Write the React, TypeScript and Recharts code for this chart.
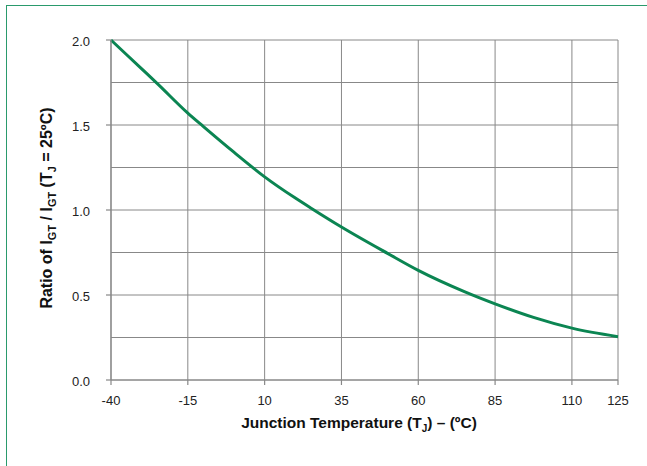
import React from 'react';
import { LineChart, Line, XAxis, YAxis, CartesianGrid } from 'recharts';

// junction temperature (ºC) and the I_GT ratio
const temps = [-40, -30, -25, -15, -10, 0, 10, 20, 25, 35, 50, 60, 75, 85, 97.5, 110, 125];
const ratios = [2.0, 1.83, 1.745, 1.57, 1.492, 1.34, 1.195, 1.07, 1.012, 0.9, 0.745, 0.645, 0.52, 0.448, 0.368, 0.305, 0.255];

const xTicks = [-40, -15, 10, 35, 60, 85, 110, 125];
const yTicks = [0, 0.25, 0.5, 0.75, 1.0, 1.25, 1.5, 1.75, 2.0];
const yLabelled = [0, 0.5, 1.0, 1.5, 2.0];

const data = temps.map((t, i) => ({ t, ratio: ratios[i] }));

const FONT = '"Liberation Sans", Arial, Helvetica, sans-serif';
const GRID = '#888888';
const GREEN = '#0b8552';

const YTick: React.FC<any> = ({ x, y, payload }) => {
  if (!yLabelled.includes(payload.value)) return null;
  return (
    <g>
      <line x1={x + 16} x2={x + 21} y1={y} y2={y} stroke={GRID} strokeWidth={1.2} />
      <text x={x} y={y + 1} dy="0.36em" textAnchor="end" fontSize={13} fill="#222" fontFamily={FONT}>
        {payload.value.toFixed(1)}
      </text>
    </g>
  );
};

const YTitle: React.FC<any> = () => (
  <text
    transform="translate(52,208) rotate(-90)"
    textAnchor="middle"
    fontSize={16}
    fontWeight="bold"
    fill="#111"
    fontFamily={FONT}
  >
    Ratio of I<tspan dy={4} fontSize={11}>GT</tspan>
    <tspan dy={-4}> / I</tspan><tspan dy={4} fontSize={11}>GT</tspan>
    <tspan dy={-4}> (T</tspan><tspan dy={4} fontSize={11}>J</tspan>
    <tspan dy={-4}> = 25ºC)</tspan>
  </text>
);

const XTitle: React.FC<any> = () => (
  <text x={359} y={428} textAnchor="middle" fontSize={15.5} fontWeight="bold" fill="#111" fontFamily={FONT}>
    Junction Temperature (T<tspan dy={4} fontSize={10}>J</tspan>
    <tspan dy={-4}>) – (ºC)</tspan>
  </text>
);

export default function App() {
  return (
    <div style={{ position: 'absolute', left: 0, top: 0, width: 647, height: 466, background: '#fff', overflow: 'hidden' }}>
      <div
        style={{
          position: 'absolute',
          left: 6,
          top: 5,
          width: 700,
          height: 520,
          borderTop: '1.5px solid #2a9a6c',
          borderLeft: '1.5px solid #2a9a6c',
        }}
      />
      <div style={{ position: 'absolute', left: 0, top: 0 }}>
        <LineChart width={647} height={466} data={data} margin={{ top: 40, right: 29, bottom: 0, left: 0 }}>
          <CartesianGrid stroke={GRID} strokeWidth={1} />
          <XAxis
            dataKey="t"
            type="number"
            domain={[-40, 125]}
            ticks={xTicks}
            interval={0}
            height={86}
            tickSize={5}
            tickMargin={11}
            stroke={GRID}
            strokeWidth={1.2}
            tick={{ fontSize: 13, fill: '#222', fontFamily: FONT }}
            label={{ content: <XTitle /> }}
          />
          <YAxis
            type="number"
            domain={[0, 2]}
            ticks={yTicks}
            interval={0}
            width={111}
            tickSize={5}
            tickMargin={16}
            tickLine={false}
            stroke={GRID}
            strokeWidth={1.2}
            tick={<YTick />}
            label={{ content: <YTitle /> }}
          />
          <Line
            type="monotone"
            dataKey="ratio"
            stroke={GREEN}
            strokeWidth={3}
            dot={false}
            isAnimationActive={false}
          />
        </LineChart>
      </div>
    </div>
  );
}
